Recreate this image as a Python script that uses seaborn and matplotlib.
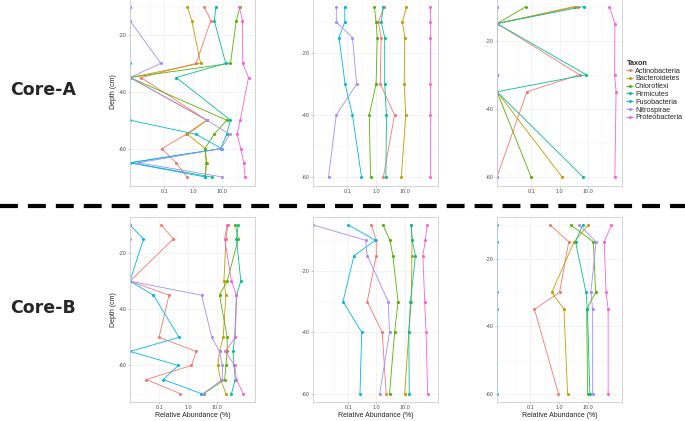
import numpy as np
import pandas as pd
import seaborn as sns
import matplotlib
matplotlib.use("Agg")
import matplotlib.pyplot as plt
from matplotlib.lines import Line2D
from matplotlib.ticker import FixedLocator, FixedFormatter

taxa = ["Actinobacteria", "Bacteroidetes", "Chloroflexi", "Firmicutes",
        "Fusobacteria", "Nitrospirae", "Proteobacteria"]
colors = ["#F8766D", "#C49A00", "#53B400", "#00C094", "#00B6EB", "#A58AFF", "#FB61D7"]

# depths (cm) per site column
depth_1 = [-10, -15, -30, -35, -50, -55, -60, -65, -70]
depth_2 = [-5, -10, -15, -30, -40, -60]
depth_3 = [-10, -15, -30, -35, -60]

# relative abundance (%), 0 = absent (drawn at the panel edge)
core_a_1 = {
    "Actinobacteria": [2.4, 4.0, 1.26, 0.016, 2.9, 0.57, 0.083, 0.26, 0.6],
    "Bacteroidetes": [0.63, 0.89, 1.8, 0, 3.0, 0.63, 2.6, 2.9, 2.6],
    "Chloroflexi": [41, 30, 19, 0, 14, 5.2, 2.5, 2.8, 2.5],
    "Firmicutes": [6.0, 5.3, 13, 0.26, 19, 14, 8.7, 0, 4.3],
    "Fusobacteria": [0, 0, 0, 0, 0, 1.26, 9.5, 0, 2.6],
    "Nitrospirae": [0, 0, 0.077, 0, 2.9, 18, 9.0, 0.013, 10],
    "Proteobacteria": [38, 49, 50, 79, 41, 32, 43, 54, 60],
}
core_a_2 = {
    "Actinobacteria": [1.9, 1.2, 1.5, 1.4, 4.4, 1.8],
    "Bacteroidetes": [11.5, 8.3, 10, 9.6, 10.8, 7.6],
    "Chloroflexi": [0.87, 1.0, 1.1, 1.0, 0.58, 0.64],
    "Firmicutes": [1.8, 1.5, 2.0, 2.0, 2.3, 2.2],
    "Fusobacteria": [0.081, 0.081, 0.051, 0.083, 0.15, 0.31],
    "Nitrospirae": [0.041, 0.041, 0.15, 0.21, 0.041, 0.022],
    "Proteobacteria": [74, 74, 74, 74, 74, 74],
}
core_a_3 = {
    "Actinobacteria": [4.5, 0, 5.1, 0.071, 0],
    "Bacteroidetes": [3.4, 0, 0, 0, 1.23],
    "Chloroflexi": [0.067, 0, 0, 0, 0.1],
    "Firmicutes": [7.1, 0, 8.7, 0, 6.7],
    "Fusobacteria": [0, 0, 0, 0, 0],
    "Nitrospirae": [0, 0, 0, 0, 0],
    "Proteobacteria": [57, 89, 87, 98, 89],
}
core_b_1 = {
    "Actinobacteria": [0.12, 0.31, 0, 0.22, 0.1, 1.9, 1.3, 0.036, 0.53],
    "Bacteroidetes": [23, 20, 17, 20, 16, 12, 10.5, 13, 20],
    "Chloroflexi": [42, 53, 22, 12, 22, 22, 20, 18, 3.5],
    "Firmicutes": [53, 46, 65, 46, 40, 35, 38, 42, 31],
    "Fusobacteria": [0, 0.029, 0, 0.064, 0.49, 0, 0.46, 0.14, 2.8],
    "Nitrospirae": [0, 0, 0, 2.9, 6.5, 12, 15, 15, 3.3],
    "Proteobacteria": [22, 18, 31, 46, 42, 19, 40, 46, 78],
}
core_b_2 = {
    "Actinobacteria": [0.66, 0.98, 0.98, 0.47, 1.6, 2.2],
    "Bacteroidetes": [17, 18, 18, 17, 14, 10],
    "Chloroflexi": [1.7, 3.0, 3.8, 5.8, 4.4, 2.9],
    "Firmicutes": [17, 18.5, 24, 16, 14, 14.5],
    "Fusobacteria": [0.1, 0.92, 0.16, 0.065, 0.30, 0.26],
    "Nitrospirae": [0, 0.41, 0.47, 2.6, 2.9, 1.3],
    "Proteobacteria": [62, 54, 44, 51, 57, 65],
}
core_b_3 = {
    "Actinobacteria": [0.49, 2.2, 1.05, 0.14, 0.96],
    "Bacteroidetes": [10.5, 3.4, 0.56, 1.5, 2.0],
    "Chloroflexi": [2.6, 16, 19, 9.3, 10],
    "Firmicutes": [6.7, 3.8, 8.8, 9.8, 12],
    "Fusobacteria": [0, 0, 0, 0, 0],
    "Nitrospirae": [5.2, 19.7, 13, 15, 15],
    "Proteobacteria": [68, 38, 44, 52, 52],
}

x_ticks = [0.1, 1.0, 10.0]
x_tick_labels = ["0.1", "1.0", "10.0"]
y_ticks = [-20, -40, -60]

sns.set_style("white")
plt.rcParams["font.family"] = ["Liberation Sans", "DejaVu Sans"]
plt.rcParams["axes.unicode_minus"] = False

W, H = 685, 421
fig = plt.figure(figsize=(W / 100, H / 100), dpi=100)
palette = dict(zip(taxa, colors))


def to_frame(values, depths, floor):
    rows = []
    for taxon in taxa:
        for d, v in zip(depths, values[taxon]):
            rows.append({"Taxon": taxon, "Depth": d,
                         "Abundance": v if v > 0 else floor})
    return pd.DataFrame(rows)


col_left = [130, 313, 497]
row_span = [(-2, 185.5), (216.5, 402)]
panels = [
    (core_a_1, depth_1, (-2.17, 2.12), 0, 0),
    (core_a_2, depth_2, (-2.20, 2.16), 0, 1),
    (core_a_3, depth_3, (-2.20, 2.20), 0, 2),
    (core_b_1, depth_1, (-2.00, 2.30), 1, 0),
    (core_b_2, depth_2, (-2.25, 2.18), 1, 1),
    (core_b_3, depth_3, (-2.16, 2.20), 1, 2),
]

for values, depths, (lo, hi), r, c in panels:
    top, bottom = row_span[r]
    ax = fig.add_axes([col_left[c] / W, (H - bottom) / H, 125 / W, (bottom - top) / H])
    df = to_frame(values, depths, 10 ** lo)
    show_leg = (r == 0 and c == 2)
    sns.lineplot(data=df, x="Abundance", y="Depth", hue="Taxon", hue_order=taxa,
                 palette=palette, orient="y", estimator=None, sort=True,
                 marker="o", markersize=2.2, markeredgewidth=0, linewidth=0.6,
                 legend=show_leg, ax=ax)
    ax.set_xscale("log")
    ax.set_xlim(10 ** lo, 10 ** hi)
    dmin, dmax = min(depths), max(depths)
    pad = 0.05 * (dmax - dmin)
    ax.set_ylim(dmin - pad, dmax + pad)

    ax.xaxis.set_major_locator(FixedLocator(x_ticks))
    ax.xaxis.set_major_formatter(FixedFormatter(x_tick_labels))
    ax.xaxis.set_minor_locator(FixedLocator([10 ** -1.5, 10 ** -0.5, 10 ** 0.5, 10 ** 1.5]))
    ax.set_yticks(y_ticks)
    ax.yaxis.set_minor_locator(FixedLocator([-10, -30, -50, -70]))
    ax.grid(True, which="major", color="#EFEFEF", linewidth=0.5)
    ax.grid(True, which="minor", color="#F6F6F6", linewidth=0.4)
    ax.set_axisbelow(True)
    ax.tick_params(axis="both", which="major", labelsize=3.9, length=1.5, width=0.4,
                   color="#999999", labelcolor="#4D4D4D", pad=1)
    ax.tick_params(axis="both", which="minor", length=0)
    ax.tick_params(axis="x", bottom=True)
    ax.tick_params(axis="y", left=True)
    for s in ax.spines.values():
        s.set_color("#CCCCCC")
        s.set_linewidth(0.6)

    ax.set_ylabel("Depth (cm)" if c == 0 else "", fontsize=5, color="#222222", labelpad=1.5)
    ax.set_xlabel("Relative Abundance (%)" if r == 1 else "", fontsize=5,
                  color="#222222", labelpad=1)

    if show_leg:
        sns.move_legend(ax, "upper left", bbox_to_anchor=(1.035, 0.67), frameon=False,
                        title="Taxon", fontsize=5.2, title_fontsize=5.2,
                        handlelength=0.9, handletextpad=0.3, labelspacing=0.1,
                        borderpad=0, borderaxespad=0)
        leg = ax.get_legend()
        leg.get_title().set_fontweight("bold")
        leg._legend_box.align = "left"

fig.text(43 / W, 1 - 90 / H, "Core-A", fontsize=12.5, fontweight="bold",
         family="DejaVu Sans", ha="center", va="center")
fig.text(43 / W, 1 - 308 / H, "Core-B", fontsize=12.5, fontweight="bold",
         family="DejaVu Sans", ha="center", va="center")

y_dash = 1 - 206 / H
fig.add_artist(Line2D([0, 1], [y_dash, y_dash], transform=fig.transFigure,
                      color="black", linewidth=3, dashes=(4.3, 2.4)))

fig.savefig("out.png", dpi=100)
